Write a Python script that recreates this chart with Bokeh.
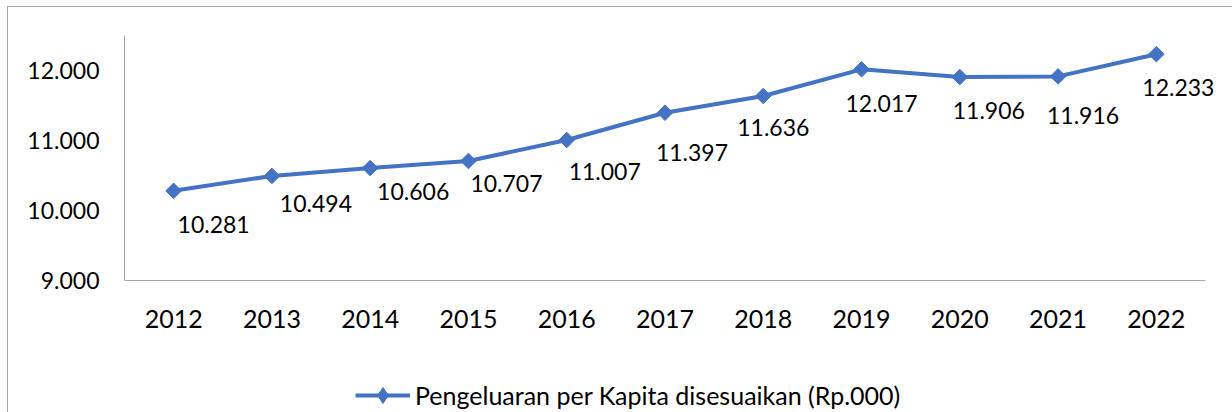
from bokeh.plotting import figure
from bokeh.layouts import column
from bokeh.models import (ColumnDataSource, Range1d, FixedTicker,
                          LabelSet, Legend, LegendItem)
from bokeh.core.properties import value
from bokeh.embed import file_html
from bokeh.resources import INLINE
import math

# ---- data ----
years = ["2012", "2013", "2014", "2015", "2016", "2017", "2018", "2019", "2020", "2021", "2022"]
values = [10281, 10494, 10606, 10707, 11007, 11397, 11636, 12017, 11906, 11916, 12233]
y_ticks = [9000, 10000, 11000, 12000]
series_name = "Pengeluaran per Kapita disesuaikan (Rp.000)"

# ---- label placement (screen offsets, style only) ----
label_dx = [40, 44, 43, 38, 38, 27, 10, 20, 29, 25, 22]
label_dy = [34, 28, 23, 22, 31, 40, 32, 34, 33, 39, 33]


def fmt(v):
    return f"{v:,}".replace(",", ".")


pos = list(range(len(years)))  # category slots on the x scale

src = ColumnDataSource(dict(
    x=pos,
    value=values,
    label=[fmt(v) for v in values],
    dx=label_dx,
    dy=[-d for d in label_dy],
))

FONT = "Lato"
BLUE = "#4472C4"
GRAY = "#a6a6a6"

W = 1224
H1, H2 = 365, 40
ML, MR, MT = 116, 2, 28
MB = H1 - MT - 245
frame_w = W - ML - MR
axis_w = 1081  # drawn length of the category axis in px
n = len(years)
x_end = -0.5 + n * frame_w / axis_w

p1 = figure(
    x_range=Range1d(-0.5, x_end),
    y_range=Range1d(9000, 12500),
    width=W, height=H1,
    output_backend="svg", toolbar_location=None,
    min_border_left=ML, min_border_right=MR,
    min_border_top=MT, min_border_bottom=MB,
)
p1.outline_line_color = None
p1.xgrid.grid_line_color = None
p1.ygrid.grid_line_color = None
p1.background_fill_color = "white"
p1.border_fill_color = "white"

for ax in (p1.xaxis[0], p1.yaxis[0]):
    ax.axis_line_color = GRAY
    ax.axis_line_width = 1
    ax.major_tick_line_color = None
    ax.minor_tick_line_color = None
    ax.major_label_text_font = FONT
    ax.major_label_text_color = "#000000"

p1.xaxis.major_label_text_font_size = "25px"
p1.yaxis.major_label_text_font_size = "23px"
p1.xaxis.ticker = FixedTicker(ticks=pos)
p1.xaxis.major_label_overrides = {i: y for i, y in zip(pos, years)}
p1.xaxis.bounds = (-0.5, n - 0.5)
p1.xaxis.major_label_standoff = 23
p1.yaxis.major_label_standoff = 19
p1.yaxis.ticker = FixedTicker(ticks=y_ticks)
p1.yaxis.major_label_overrides = {t: fmt(t) for t in y_ticks}

line_kw = dict(line_color=BLUE, line_width=4)
mark_kw = dict(marker="square", size=11, angle=math.pi / 4,
               fill_color=BLUE, line_color=BLUE)

p1.line("x", "value", source=src, **line_kw)
p1.scatter("x", "value", source=src, **mark_kw)

labels = LabelSet(x="x", y="value", text="label", source=src,
                  x_offset="dx", y_offset="dy",
                  text_align="center", text_baseline="middle",
                  text_font=value(FONT), text_font_size="23px",
                  text_color="#000000")
p1.add_layout(labels)

# ---- legend strip (its glyph renderers lie outside its tiny view range) ----
p2 = figure(width=W, height=H2, output_backend="svg", toolbar_location=None,
            x_range=Range1d(0, 1), y_range=Range1d(0, 1),
            x_axis_type=None, y_axis_type=None,
            min_border_left=0, min_border_right=0,
            min_border_top=0, min_border_bottom=0)
p2.outline_line_color = None
p2.xgrid.grid_line_color = None
p2.ygrid.grid_line_color = None
p2.background_fill_color = "white"
p2.border_fill_color = "white"
lg_line = p2.line("x", "value", source=src, **line_kw)
lg_mark = p2.scatter("x", "value", source=src, marker="diamond", size=11,
                     fill_color=BLUE, line_color=BLUE)

legend = Legend(items=[LegendItem(label=series_name, renderers=[lg_line, lg_mark])],
                location=(231, -3), margin=0,
                padding=0, spacing=0,
                glyph_width=55, glyph_height=40, label_height=40,
                label_standoff=5,
                border_line_alpha=0, background_fill_alpha=0,
                label_text_font=FONT, label_text_font_size="25px",
                label_text_color="#000000")
p2.add_layout(legend)

layout = column(p1, p2, spacing=0, margin=(6, 0, 0, 7),
                styles={"border-left": f"1px solid {GRAY}",
                        "border-top": f"1px solid {GRAY}"})

open("out.html", "w").write(file_html(layout, INLINE))
